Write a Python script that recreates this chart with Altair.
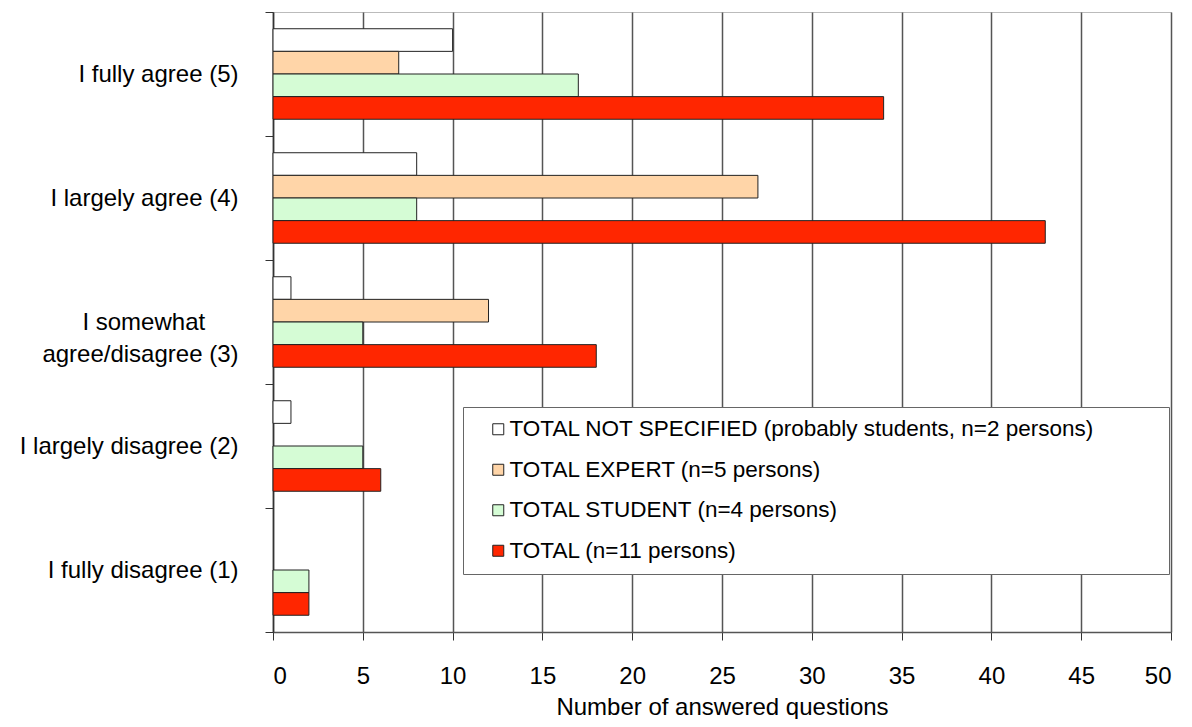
import altair as alt
import pandas as pd

categories = [
    "I fully agree (5)",
    "I largely agree (4)",
    "I somewhat agree/disagree (3)",
    "I largely disagree (2)",
    "I fully disagree (1)",
]
series = [
    "TOTAL NOT SPECIFIED (probably students, n=2 persons)",
    "TOTAL EXPERT (n=5 persons)",
    "TOTAL STUDENT (n=4 persons)",
    "TOTAL (n=11 persons)",
]
not_specified = [10, 8, 1, 1, 0]
expert = [7, 27, 12, 0, 0]
student = [17, 8, 5, 5, 2]
total = [34, 43, 18, 6, 2]
colors = ["#FFFFFF", "#FFD5A8", "#D5FCD5", "#FF2600"]
x_ticks = [0, 5, 10, 15, 20, 25, 30, 35, 40, 45, 50]

rows = []
for s, vals in zip(series, [not_specified, expert, student, total]):
    for c, v in zip(categories, vals):
        rows.append({"category": c, "series": s, "value": v})
df = pd.DataFrame(rows)

NB = "\u00a0"
ZW = "\u200b"
ylabel_expr = (
    "datum.value == 'I somewhat agree/disagree (3)' ? "
    "['I somewhat" + NB * 5 + ZW + "', 'agree/disagree (3)'] : datum.label"
)
legend_expr = "datum.index == 0 ? datum.label + '" + NB * 10 + ZW + "' : datum.label"

FONT = "Liberation Sans"

chart = (
    alt.Chart(df)
    .transform_filter("datum.value > 0")
    .mark_bar(stroke="#222222", strokeWidth=1)
    .encode(
        x=alt.X(
            "value:Q",
            scale=alt.Scale(domain=[0, 50], nice=False),
            axis=alt.Axis(
                values=x_ticks,
                title="Number of answered questions",
                grid=True,
                gridColor="#555555",
                gridWidth=1.5,
                tickSize=8,
                tickColor="#333333",
                domainColor="#555555",
                domainWidth=1.5,
                labelFontSize=24,
                labelFont=FONT,
                labelColor="#000000",
                labelPadding=24,
                titleFontSize=24,
                titleFont=FONT,
                titleFontWeight="normal",
                titleColor="#000000",
                titlePadding=7,
            ),
        ),
        y=alt.Y(
            "category:N",
            sort=categories,
            scale=alt.Scale(paddingInner=0, paddingOuter=0),
            axis=alt.Axis(
                title=None,
                tickBand="extent",
                tickSize=8,
                tickColor="#333333",
                domainColor="#333333",
                domainWidth=1.5,
                labelFontSize=24,
                labelFont=FONT,
                labelColor="#000000",
                labelPadding=27,
                labelLimit=400,
                labelLineHeight=32,
                labelExpr=ylabel_expr,
            ),
        ),
        yOffset=alt.YOffset(
            "series:N",
            sort=series,
            scale=alt.Scale(paddingInner=0, paddingOuter=0.74),
        ),
        color=alt.Color(
            "series:N",
            sort=series,
            scale=alt.Scale(domain=series, range=colors),
            legend=alt.Legend(
                title=None,
                orient="none",
                legendX=190,
                legendY=395,
                padding=11,
                strokeColor="#666666",
                fillColor="#FFFFFF",
                symbolType="square",
                symbolSize=121,
                symbolStrokeColor="#222222",
                symbolStrokeWidth=1,
                symbolOffset=13,
                labelOffset=0,
                labelFontSize=22.5,
                labelFont=FONT,
                labelColor="#000000",
                labelLimit=2000,
                rowPadding=17.5,
                labelExpr=legend_expr,
            ),
        ),
    )
    .properties(
        width=898,
        height=620,
        autosize=alt.AutoSizeParams(type="none"),
        padding={"left": 265, "top": 4, "right": 12, "bottom": 87},
    )
    .configure_view(stroke="#BBBBBB", strokeWidth=1)
)

chart.save("out.html", embed_options={"renderer": "svg", "actions": False})
